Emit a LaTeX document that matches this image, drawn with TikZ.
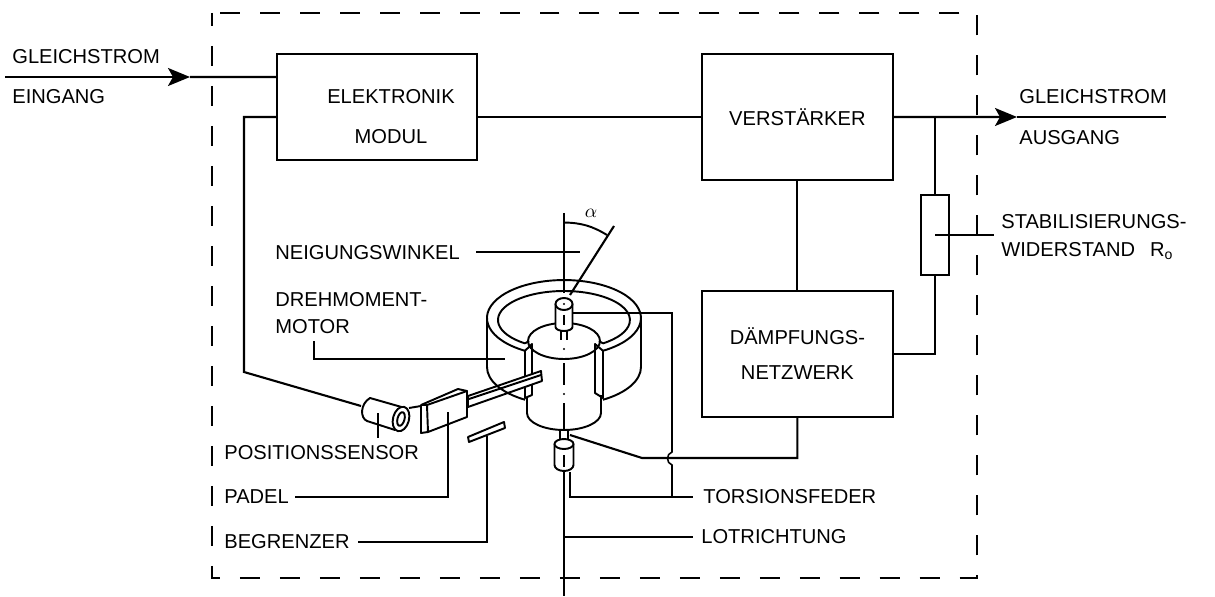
\documentclass[tikz,border=0pt]{standalone}
\usepackage{fontspec}
\setmainfont{Liberation Sans}
\usetikzlibrary{arrows.meta, positioning}

\begin{document}
\begin{tikzpicture}[
    x=0.02cm, y=0.02cm,
    node distance=2.22cm and 4.5cm,
    box/.style={
        draw,
        line width=1.2pt,
        outer sep=0pt,
        align=center,
        font=\fontsize{11.45pt}{14pt}\selectfont
    },
    wire/.style={line width=1.2pt},
    leader/.style={line width=0.9pt},
    part/.style={line width=1.1pt, line join=round},
    lbl/.style={
        inner sep=0pt,
        font=\fontsize{11.45pt}{14pt}\selectfont
    },
    pfeil/.style={
        wire,
        -{Stealth[length=0.44cm,width=0.36cm,inset=0.1cm]}
    }
]
\useasboundingbox (0,0) rectangle (1215,596);

% Gehaeuse
\draw[wire, dash pattern=on 0.4cm off 0.4cm, dash phase=0.14cm] (212,583) rectangle (977,18);

% Bloecke
\node[box, minimum width=4cm, minimum height=2.12cm] (elektronik) at (377,489) {};
\node[box, minimum width=3.82cm, minimum height=2.52cm, right=of elektronik, yshift=-0.2cm] (verstaerker) {VERSTÄRKER};
\node[box, minimum width=3.82cm, minimum height=2.52cm, below=of verstaerker] (daempfung) {DÄMPFUNGS-\\[5.8pt]NETZWERK};
\node[box, minimum width=0.56cm, minimum height=1.6cm] (widerstand) at (935,361) {};

% Texte
\node[lbl] (elektroniktext) at (391,499) {ELEKTRONIK};
\node[lbl] (modultext) at (391,459) {MODUL};
\node[lbl, anchor=west] (gleichein) at (12,539) {GLEICHSTROM};
\node[lbl, anchor=west] (eingang) at (12,499) {EINGANG};
\node[lbl, anchor=west] (gleichaus) at (1019,499) {GLEICHSTROM};
\node[lbl, anchor=west] (ausgang) at (1019,458) {AUSGANG};
\node[lbl, anchor=west] (stabil) at (1001,374) {STABILISIERUNGS-};
\node[lbl, anchor=west] (widerst) at (1001,345) {WIDERSTAND\hspace{0.3cm}R\textsubscript{o}};
\node[lbl, anchor=west] (neigung) at (275,343) {NEIGUNGSWINKEL};
\node[lbl, anchor=west] (drehmoment) at (275,296) {DREHMOMENT-};
\node[lbl, anchor=west] (motor) at (275,269) {MOTOR};
\node[lbl, anchor=west] (sensortext) at (224,143) {POSITIONSSENSOR};
\node[lbl, anchor=west] (padel) at (224,99) {PADEL};
\node[lbl, anchor=west] (begrenzer) at (224,54) {BEGRENZER};
\node[lbl, anchor=west] (torsion) at (703,99) {TORSIONSFEDER};
\node[lbl, anchor=west] (lot) at (701,59) {LOTRICHTUNG};
\node[lbl] (alpha) at (591,383) {$\alpha$};

% Punkte
\coordinate (ein) at (190,519);
\coordinate (aus) at (1017,479);
\coordinate (abzweig) at (935,479);
\coordinate (sensor) at (361,190);

% Leitungen
\draw[pfeil] (5,519) -- (ein);
\draw[wire] (ein) -- ([yshift=0.6cm]elektronik.west);
\draw[wire] ([yshift=-0.2cm]elektronik.east) -- (verstaerker.west);
\draw[pfeil] (verstaerker.east) -- (aus);
\draw[wire] (aus) -- (1166,479);
\draw[wire] (verstaerker.south) -- (daempfung.north);
\draw[wire] (abzweig) -- (widerstand.north);
\draw[wire] (widerstand.south) |- (daempfung.east);
\draw[wire] ([yshift=-0.2cm]elektronik.west) -- (244,479) -- (244,224) -- (sensor);
\draw[wire] (daempfung.south) |- (642,138) -- (570,161);

% Ring
\draw[part] (525,245.2) arc[start angle=239.6, end angle=-59.6, x radius=1.54cm, y radius=0.76cm];
\draw[part] (525,252.6) arc[start angle=233.8, end angle=-53.8, x radius=1.32cm, y radius=0.58cm];
\draw[part] (487,278) -- (487,229);
\draw[part] (641,278) -- (641,229);
\draw[part] (525,245.2) -- (532,252) -- (532,201) -- (525,198) -- cycle;
\draw[part] (525,252.6) -- (529,255);
\draw[part] (603,245.2) -- (595,252) -- (595,203) -- (603,198) -- cycle;
\draw[part] (603,252.6) -- (599,255);

% Rotor
\draw[part] (564,255) ellipse (0.72cm and 0.36cm);
\draw[part] (527,198) -- (527,183) arc[start angle=180, end angle=360, x radius=0.74cm, y radius=0.34cm] -- (601,201);
\draw[part] (564,233) -- (564,211);
\draw[part] (564,193) -- (564,166);
\fill (564,247) circle (1.2);
\fill (564,202) circle (1.2);

% Lager oben
\draw[part] (561,266) -- (561,256);
\draw[part] (567,266) -- (567,256);
\draw[part, fill=white] (555.5,292) -- (555.5,269) arc[start angle=180, end angle=360, x radius=0.17cm, y radius=0.08cm] -- (572.5,292) -- cycle;
\draw[part, fill=white] (564,292) ellipse (0.17cm and 0.12cm);
\fill (564,292) circle (1.2);
\draw[part] (564,281) -- (564,271);

% Lager unten
\draw[part] (560,166) -- (560,156);
\draw[part] (568,166) -- (568,156);
\draw[part, fill=white] (554.5,152) -- (554.5,131) arc[start angle=180, end angle=360, x radius=0.19cm, y radius=0.12cm] -- (573.5,152) -- cycle;
\draw[part, fill=white] (564,152) ellipse (0.19cm and 0.1cm);
\draw[part] (564,141) -- (564,129);
\draw[wire] (564,125) -- (564,0);

% Padel
\draw[part, fill=white] (468,200) -- (541,225) -- (542,215) -- (468,189) -- cycle;
\draw[part] (469,197) -- (541,221);
\draw[part] (487,229) arc[start angle=180, end angle=239.6, x radius=1.54cm, y radius=0.76cm];
\draw[part] (641,229) arc[start angle=0, end angle=-59.6, x radius=1.54cm, y radius=0.76cm];
\draw[part] (421,191) -- (427,191) -- (428,164) -- (421,163) -- cycle;
\draw[part] (427,191) -- (467,205) -- (467,179) -- (428,164);
\draw[part] (421,191) -- (458,207) -- (467,205);
\draw[part] (409,188) -- (421,190);

% Sensor
\draw[part] (395,166) -- (367,175) .. controls (360,178) and (360,192) .. (370,198) -- (405,188);
\draw[part, fill=white, rotate around={-15:(401,177)}] (401,177) ellipse (0.16cm and 0.25cm);
\draw[part, rotate around={-15:(401,177)}] (401,177) ellipse (0.07cm and 0.14cm);

% Begrenzer
\draw[part] (468,159) -- (504,174) -- (505,168) -- (469,154) -- cycle;

% Lot und Winkel
\draw[wire] (564,383) -- (564,303);
\draw[wire] (614,370) -- (570,301);
\draw[part] (564,373.5) to[bend left=15] (607,361);

% Hinweislinien
\draw[leader] (476,344) -- (580,344);
\draw[leader] (314,255) -- (314,237) -- (505,237);
\draw[leader] (378,183) -- (378,158);
\draw[leader] (448,184) -- (448,99) -- ([xshift=0.12cm]padel.east);
\draw[leader] (487,160) -- (487,54) -- ([xshift=0.16cm]begrenzer.east);
\draw[leader] (573,283) -- (672,283) -- (672,144) .. controls (666,142) and (666,133) .. (672,131) -- (672,99);
\draw[leader] (570,124) -- (570,99) -- ([xshift=-0.2cm]torsion.west);
\draw[leader] (564,59) -- ([xshift=-0.16cm]lot.west);
\draw[leader] (935,361) -- ([xshift=-0.14cm]widerst.north west |- widerstand.center);

\end{tikzpicture}
\end{document}
